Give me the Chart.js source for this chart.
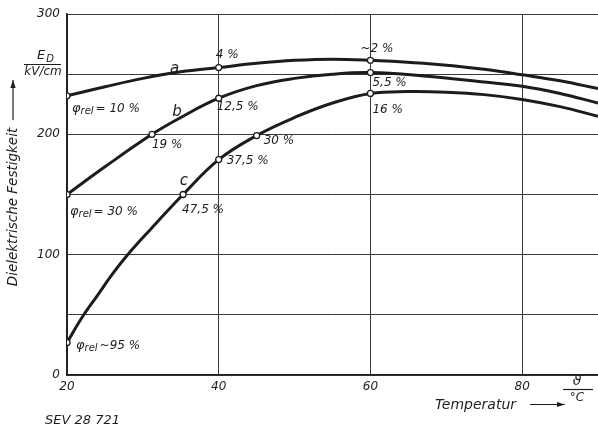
<!DOCTYPE html>
<html>
<head>
<meta charset="utf-8">
<script src="https://cdn.jsdelivr.net/npm/chart.js@4.4.1/dist/chart.umd.min.js"></script>
<style>
  html, body { margin: 0; padding: 0; background: #fff; }
  #wrap { width: 598px; height: 429px; position: relative; }
</style>
</head>
<body>
<div id="wrap"><canvas id="c" width="598" height="429"></canvas></div>
<script>
// Dielectric strength E_D (kV/cm) versus temperature (°C) for three humidity levels

// Curve a
const tempA     = [20, 25, 30, 35, 40, 45, 50, 55, 60, 67, 75, 80, 85, 90];
const strengthA = [232, 239.5, 246.5, 252, 255.5, 259, 261.5, 262.5, 261.5, 259, 254, 249.5, 244.5, 238];
const markA     = [20, 40, 60];

// Curve b
const tempB     = [20, 25, 31.2, 35, 40, 45, 50, 55, 60, 67, 75, 80, 85, 90];
const strengthB = [150, 173, 200, 214, 230, 240.5, 246.5, 250, 251.3, 248.5, 243.5, 240, 234, 226];
const markB     = [20, 31.2, 40, 60];

// Curve c
const tempC     = [20, 22, 24, 26, 28, 31, 35.3, 40, 45, 50, 55, 60, 65, 70, 75, 80, 85, 90];
const strengthC = [27, 48, 66, 84, 100, 121, 150, 179, 199, 214, 226, 234, 235.5, 235, 233, 229, 223, 215];
const markC     = [20, 35.3, 40, 45, 60];

// Axes
const xTicks = [20, 40, 60, 80];
const yGrid  = [0, 50, 100, 150, 200, 250, 300];
const yLabelStep = 100;

// Relative humidity noted at the marked points: [curve, temperature, text]
const pointNotes = [
  ['a', 20,   '= 10 %'],
  ['a', 40,   '4 %'],
  ['a', 60,   '~2 %'],
  ['b', 20,   '= 30 %'],
  ['b', 31.2, '19 %'],
  ['b', 40,   '12,5 %'],
  ['b', 60,   '5,5 %'],
  ['c', 20,   '~95 %'],
  ['c', 35.3, '47,5 %'],
  ['c', 40,   '37,5 %'],
  ['c', 45,   '30 %'],
  ['c', 60,   '16 %']
];

// Curve letters: [letter, temperature, strength]
const curveLetters = [['a', 34.2, 254.3], ['b', 34.5, 218.6], ['c', 35.4, 161.2]];

const curves = {
  a: { t: tempA, e: strengthA, m: markA },
  b: { t: tempB, e: strengthB, m: markB },
  c: { t: tempC, e: strengthC, m: markC }
};

const INK = '#1e1e1e';
const FONT = '"DejaVu Sans", sans-serif';

// Placement of each note relative to its marker: [dx, dy, phi-prefix?]
const noteLayout = {
  'a20':   [5, 13, true],
  'a40':   [-3, -13, false],
  'a60':   [-10, -11, false],
  'b20':   [3, 17, true],
  'b31.2': [0, 11, false],
  'b40':   [-2, 9, false],
  'b60':   [2, 10, false],
  'c20':   [9, 3, true],
  'c35.3': [-1, 15, false],
  'c40':   [8, 1, false],
  'c45':   [7, 5, false],
  'c60':   [2, 16, false]
};

function valueAt(key, t) {
  const c = curves[key];
  return c.e[c.t.indexOf(t)];
}

function toPoints(key) {
  const c = curves[key];
  return c.t.map((t, i) => ({ x: t, y: c.e[i] }));
}

function markerRadius(key) {
  return ctx => (curves[key].m.includes(ctx.raw.x) ? 3 : 0);
}

function drawPhi(ctx, x, y, rest) {
  ctx.textAlign = 'left';
  ctx.textBaseline = 'middle';
  ctx.font = 'italic 13px ' + FONT;
  ctx.fillText('φ', x, y);
  let w = ctx.measureText('φ').width;
  ctx.font = 'italic 10px ' + FONT;
  ctx.fillText('rel', x + w, y + 3);
  w += ctx.measureText('rel').width + 2;
  ctx.font = 'italic 12px ' + FONT;
  ctx.fillText(rest, x + w, y);
}

function arrow(ctx, x1, y1, x2, y2) {
  ctx.beginPath();
  ctx.moveTo(x1, y1);
  ctx.lineTo(x2, y2);
  ctx.stroke();
  const a = Math.atan2(y2 - y1, x2 - x1);
  const L = 8, W = 2.6;
  ctx.beginPath();
  ctx.moveTo(x2, y2);
  ctx.lineTo(x2 - L * Math.cos(a) + W * Math.sin(a), y2 - L * Math.sin(a) - W * Math.cos(a));
  ctx.lineTo(x2 - L * Math.cos(a) - W * Math.sin(a), y2 - L * Math.sin(a) + W * Math.cos(a));
  ctx.closePath();
  ctx.fill();
}

const annotations = {
  id: 'annotations',
  afterDraw(chart) {
    const ctx = chart.ctx;
    const xs = chart.scales.x, ys = chart.scales.y;
    ctx.save();
    ctx.fillStyle = INK;
    ctx.strokeStyle = INK;

    // humidity notes
    pointNotes.forEach(([key, t, text]) => {
      const [dx, dy, phi] = noteLayout[key + t];
      const px = xs.getPixelForValue(t) + dx;
      const py = ys.getPixelForValue(valueAt(key, t)) + dy;
      if (phi) {
        drawPhi(ctx, px, py, text);
      } else {
        ctx.font = 'italic 12px ' + FONT;
        ctx.textAlign = 'left';
        ctx.textBaseline = 'middle';
        ctx.fillText(text, px, py);
      }
    });

    // curve letters
    ctx.font = 'italic 15px ' + FONT;
    ctx.textAlign = 'center';
    ctx.textBaseline = 'middle';
    curveLetters.forEach(([key, t, v]) => {
      ctx.fillText(key, xs.getPixelForValue(t), ys.getPixelForValue(v));
    });

    // unit of the value axis: E_D / (kV/cm)
    ctx.textAlign = 'center';
    ctx.font = 'italic 13px ' + FONT;
    ctx.fillText('E', 41, 56);
    ctx.font = 'italic 10px ' + FONT;
    ctx.fillText('D', 50, 59);
    ctx.lineWidth = 1.2;
    ctx.beginPath(); ctx.moveTo(24, 64.5); ctx.lineTo(61, 64.5); ctx.stroke();
    ctx.font = 'italic 12px ' + FONT;
    ctx.fillText('kV/cm', 43, 71.5);

    // value-axis title with arrow
    ctx.save();
    ctx.translate(13, 207);
    ctx.rotate(-Math.PI / 2);
    ctx.font = 'italic 13.5px ' + FONT;
    ctx.textAlign = 'center';
    ctx.textBaseline = 'middle';
    ctx.fillText('Dielektrische Festigkeit', 0, 0);
    ctx.restore();
    ctx.lineWidth = 1.2;
    arrow(ctx, 13, 120, 13, 80);

    // temperature axis title with arrow and unit
    ctx.font = 'italic 14px ' + FONT;
    ctx.textAlign = 'left';
    ctx.textBaseline = 'middle';
    ctx.fillText('Temperatur', 435, 405);
    arrow(ctx, 530, 404.5, 565, 404.5);
    ctx.textAlign = 'center';
    ctx.font = 'italic 14px ' + FONT;
    ctx.fillText('ϑ', 577, 381);
    ctx.beginPath(); ctx.moveTo(563, 389.5); ctx.lineTo(593, 389.5); ctx.stroke();
    ctx.font = 'italic 12px ' + FONT;
    ctx.fillText('°C', 577, 398);

    // drawing number
    ctx.textAlign = 'left';
    ctx.font = 'italic 13px ' + FONT;
    ctx.fillText('SEV 28 721', 45, 421);
    ctx.restore();
  }
};

const lineStyle = key => ({
  data: toPoints(key),
  borderColor: '#1c1c1c',
  borderWidth: 3,
  tension: 0.4,
  fill: false,
  pointRadius: markerRadius(key),
  pointBackgroundColor: '#fff',
  pointBorderColor: '#1c1c1c',
  pointBorderWidth: 1.3,
  pointHoverRadius: 0
});

const tickFont = { family: FONT, size: 12, style: 'italic' };

new Chart(document.getElementById('c'), {
  type: 'line',
  data: {
    datasets: [
      Object.assign({ label: 'a' }, lineStyle('a')),
      Object.assign({ label: 'b' }, lineStyle('b')),
      Object.assign({ label: 'c' }, lineStyle('c'))
    ]
  },
  options: {
    responsive: false,
    animation: false,
    devicePixelRatio: 1,
    layout: { autoPadding: false, padding: { top: 14, right: 0, left: 0, bottom: 0 } },
    plugins: { legend: { display: false }, tooltip: { enabled: false } },
    scales: {
      x: {
        type: 'linear',
        min: 20,
        max: 90,
        afterBuildTicks: s => { s.ticks = xTicks.map(v => ({ value: v })); },
        afterFit: s => { s.height = 54; s.paddingLeft = 0; s.paddingRight = 0; },
        grid: { color: '#3a3a3a', lineWidth: 1, drawTicks: false },
        border: { color: INK, width: 1.6 },
        ticks: { padding: 5, color: INK, font: tickFont, maxRotation: 0, autoSkip: false }
      },
      y: {
        type: 'linear',
        min: 0,
        max: 300,
        afterBuildTicks: s => { s.ticks = yGrid.map(v => ({ value: v })); },
        afterFit: s => { s.width = 67; s.paddingTop = 0; s.paddingBottom = 0; },
        grid: { color: '#3a3a3a', lineWidth: 1, drawTicks: false },
        border: { color: INK, width: 1.6 },
        ticks: {
          padding: 7, color: INK, font: tickFont, autoSkip: false,
          callback: v => (v % yLabelStep === 0 ? String(v) : '')
        }
      }
    }
  },
  plugins: [annotations]
});
</script>
</body>
</html>
